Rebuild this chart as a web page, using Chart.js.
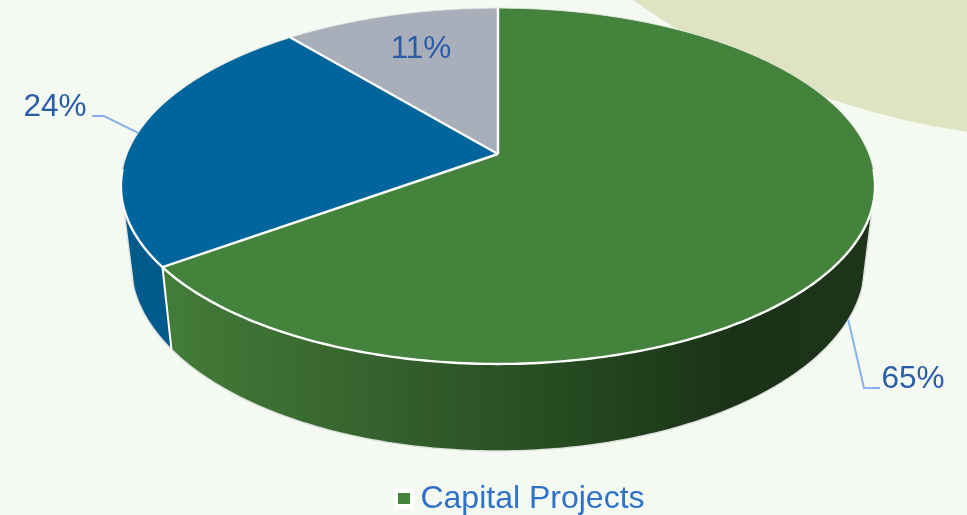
<!DOCTYPE html>
<html>
<head>
<meta charset="utf-8">
<script src="https://cdn.jsdelivr.net/npm/chart.js@4/dist/chart.umd.js"></script>
<style>
  html, body { margin: 0; padding: 0; background: #F4FAF1; overflow: hidden; }
  #wrap { position: relative; width: 967px; height: 515px; overflow: hidden; }
  #blob { position: absolute; left: 408px; top: -942px; width: 1384px; height: 1084px; border-radius: 50%; background: #DFE3C1; }
  canvas { position: absolute; left: 0; top: 0; }
</style>
</head>
<body>
<div id="wrap">
  <div id="blob"></div>
  <canvas id="myChart" width="967" height="515" style="width:967px;height:515px"></canvas>
</div>
<script>
const categories = ['Capital Projects', '', ''];
const values = [65, 24, 11];
const sliceColors = ['#44833B', '#00659C', '#A9AFBA'];

// perspective of the tilted disc: top face and bottom rim
const persp = 0.1798;
const topFace = { cx: 498, cy: 154, rx: 370.9, ry: 172.2 };
const bottomFace = { cx: 498, cy: 230.4, rx: 361, ry: 180.9 };
const sideR = 17 * Math.PI / 180;
const sideL = 163 * Math.PI / 180;

function project(face, angle) {
    const d = 1 - persp * Math.sin(angle);
    return {
        x: face.cx + face.rx * Math.cos(angle) / d,
        y: face.cy + face.ry * Math.sin(angle) / d
    };
}

function tracePoints(ctx, face, from, to, steps) {
    for (let i = 0; i <= steps; i++) {
        const p = project(face, from + (to - from) * i / steps);
        ctx.lineTo(p.x, p.y);
    }
}

function wallGradient(ctx, index) {
    if (index === 1) {
        return '#005B8C';
    }
    const g = ctx.createLinearGradient(160, 0, 875, 0);
    g.addColorStop(0, '#447D39');
    g.addColorStop(0.3, '#35622D');
    g.addColorStop(0.55, '#264C21');
    g.addColorStop(0.8, '#1A3316');
    g.addColorStop(1, '#1D3619');
    return g;
}

// legend marker: green square on a white rounded tile
function legendMarker(color) {
    const c = document.createElement('canvas');
    c.width = 20;
    c.height = 20;
    const m = c.getContext('2d');
    m.fillStyle = '#FFFFFF';
    m.beginPath();
    m.roundRect(0, 0, 20, 20, 3);
    m.fill();
    m.fillStyle = color;
    m.fillRect(4, 4, 12, 11);
    return c;
}

// draws the pie from the arc elements that the library laid out
const tiltedPie = {
    id: 'tiltedPie',
    beforeDatasetsDraw(chart) {
        const ctx = chart.ctx;
        const arcs = chart.getDatasetMeta(0).data;
        ctx.save();
        ctx.lineJoin = 'round';

        // side walls, only the part that faces the viewer
        arcs.forEach((arc, i) => {
            const from = Math.max(arc.startAngle, sideR);
            const to = Math.min(arc.endAngle, sideL);
            if (to <= from) {
                return;
            }
            const p = project(topFace, from);
            ctx.beginPath();
            ctx.moveTo(p.x, p.y);
            tracePoints(ctx, topFace, from, to, 200);
            tracePoints(ctx, bottomFace, to, from, 200);
            ctx.closePath();
            ctx.fillStyle = wallGradient(ctx, i);
            ctx.fill();
        });

        // thin rim round the body
        const r1 = project(topFace, sideR), l1 = project(topFace, sideL);
        ctx.beginPath();
        ctx.moveTo(r1.x, r1.y);
        tracePoints(ctx, bottomFace, sideR, sideL, 200);
        ctx.lineTo(l1.x, l1.y);
        ctx.strokeStyle = '#DDE0DC';
        ctx.lineWidth = 1.4;
        ctx.stroke();

        // top faces
        arcs.forEach((arc, i) => {
            ctx.beginPath();
            ctx.moveTo(topFace.cx, topFace.cy);
            tracePoints(ctx, topFace, arc.startAngle, arc.endAngle, 200);
            ctx.closePath();
            ctx.fillStyle = arc.options.backgroundColor;
            ctx.fill();
        });

        // back edge is hairline, front edge and the spokes are heavier
        ctx.strokeStyle = '#E4E7E2';
        ctx.lineWidth = 1;
        ctx.beginPath();
        const back = project(topFace, sideL);
        ctx.moveTo(back.x, back.y);
        tracePoints(ctx, topFace, sideL, sideR + 2 * Math.PI, 300);
        ctx.stroke();

        ctx.strokeStyle = '#FFFFFF';
        ctx.lineWidth = 2.4;
        arcs.forEach(arc => {
            const p = project(topFace, arc.startAngle);
            ctx.beginPath();
            ctx.moveTo(topFace.cx, topFace.cy);
            ctx.lineTo(p.x, p.y);
            ctx.stroke();
        });
        ctx.beginPath();
        const f = project(topFace, 5 * Math.PI / 180);
        ctx.moveTo(f.x, f.y);
        tracePoints(ctx, topFace, 5 * Math.PI / 180, 175 * Math.PI / 180, 200);
        ctx.stroke();

        // wall seam between the green and blue slices
        const seamTop = project(topFace, arcs[0].endAngle);
        const seamBottom = project(bottomFace, arcs[0].endAngle);
        ctx.lineWidth = 2;
        ctx.beginPath();
        ctx.moveTo(seamTop.x, seamTop.y);
        ctx.lineTo(seamBottom.x, seamBottom.y);
        ctx.stroke();

        ctx.restore();
        return false;
    }
};

// percent labels and their leader lines
const labelAnchors = [
    { x: 913, y: 379, elbow: [[864, 388], [880, 388]] },
    { x: 55, y: 107, elbow: [[104, 116], [92, 116]] },
    { x: 421, y: 49, elbow: null }
];

const pieLabels = {
    id: 'pieLabels',
    afterDraw(chart) {
        const ctx = chart.ctx;
        const arcs = chart.getDatasetMeta(0).data;
        ctx.save();
        arcs.forEach((arc, i) => {
            const spot = labelAnchors[i];
            if (spot.elbow) {
                const mid = (arc.startAngle + arc.endAngle) / 2;
                const start = project(Math.sin(mid) > 0 ? bottomFace : topFace, mid);
                ctx.beginPath();
                ctx.moveTo(start.x, start.y);
                spot.elbow.forEach(p => ctx.lineTo(p[0], p[1]));
                ctx.strokeStyle = '#85B3EE';
                ctx.lineWidth = 2;
                ctx.stroke();
            }
            ctx.fillStyle = '#2A5CA8';
            ctx.font = '31.5px "Liberation Sans", Arial, sans-serif';
            ctx.textAlign = 'center';
            ctx.textBaseline = 'middle';
            ctx.fillText(values[i] + '%', spot.x, spot.y);
        });
        ctx.restore();
    }
};

new Chart(document.getElementById('myChart').getContext('2d'), {
    type: 'pie',
    data: {
        labels: categories,
        datasets: [{
            data: values,
            backgroundColor: sliceColors,
            borderColor: '#FFFFFF'
        }]
    },
    options: {
        responsive: false,
        animation: false,
        layout: { padding: { left: 81, bottom: -10 } },
        plugins: {
            tooltip: { enabled: false },
            legend: {
                position: 'bottom',
                labels: {
                    color: '#2E71C9',
                    usePointStyle: true,
                    pointStyleWidth: 1,
                    padding: 0,
                    font: { size: 32, family: '"Liberation Sans", Arial, sans-serif' },
                    filter: item => item.text !== '',
                    generateLabels(chart) {
                        return categories.map((name, i) => ({
                            text: name,
                            pointStyle: legendMarker(sliceColors[i]),
                            fontColor: '#2E71C9',
                            index: i
                        }));
                    }
                }
            }
        }
    },
    plugins: [tiltedPie, pieLabels]
});
</script>
</body>
</html>
